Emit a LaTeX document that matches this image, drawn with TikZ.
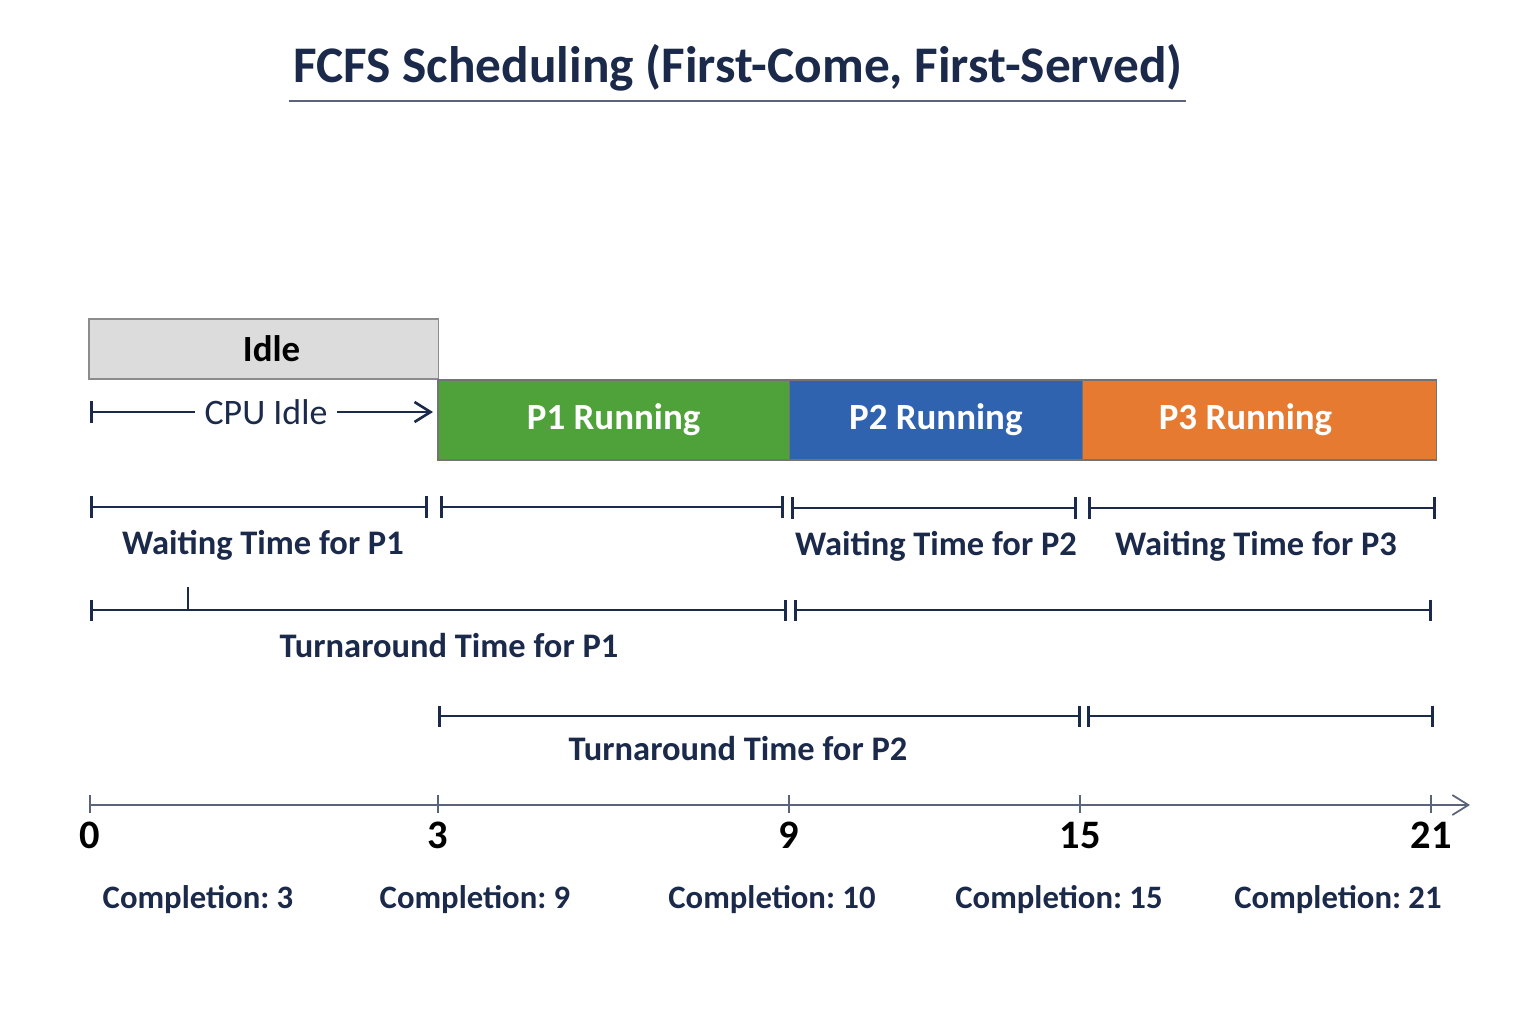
\documentclass[tikz,border=0pt]{standalone}
\usepackage{fontspec}
\setmainfont{Carlito}
\usetikzlibrary{arrows.meta,positioning}
\definecolor{navy}{HTML}{1B2A4A}
\definecolor{axisgray}{HTML}{5A6378}
\definecolor{idlegray}{HTML}{DCDCDC}
\definecolor{pgreen}{HTML}{4FA23A}
\definecolor{pblue}{HTML}{2F63B0}
\definecolor{porange}{HTML}{E57A30}
\frenchspacing
\begin{document}
\begin{tikzpicture}[
                x=0.01cm, y=-0.01cm,
                every node/.style={text=navy, font=\bfseries\fontsize{9.8}{11}\selectfont},
                proc/.style={rectangle, draw=black!55, text=white, minimum height=0.8cm, inner sep=0pt, outer sep=0pt, font=\bfseries\fontsize{10.5}{12}\selectfont},
                span/.style={draw=navy, line width=0.75pt, {Bar[width=2.1mm]}-{Bar[width=2.1mm]}},
                tick/.style={draw=axisgray, line width=0.5pt}
            ]
                \useasboundingbox (0,0) rectangle (1536,1024);
                % title
                \node[font=\bfseries\fontsize{14.6}{16}\selectfont] (title) at (738,68) {FCFS Scheduling (First-Come, First-Served)};
                \coordinate (ul0) at (289,101);
                \coordinate (ul1) at (1186,101);
                \draw[draw=axisgray, line width=0.6pt] (ul0) -- (ul1);
                % gantt boxes
                \node[proc, anchor=south west, fill=idlegray, draw=black!45, text=black, minimum width=3.49cm, minimum height=0.6cm] (idle) at (89,379) {\hspace*{0.16cm}Idle};
                \node[proc, anchor=north west, fill=pgreen, minimum width=3.51cm] (p1) at (438,380) {P1 Running};
                \node[proc, anchor=west, fill=pblue, minimum width=2.93cm] (p2) at (p1.east) {P2 Running};
                \node[proc, anchor=west, fill=porange, minimum width=3.54cm] (p3) at (p2.east) {P3 Running\hspace*{0.28cm}};
                % cpu idle
                \node[font=\fontsize{10.2}{12}\selectfont, inner sep=0pt, minimum width=1.41cm] (cpuidle) at (266,412) {CPU Idle};
                \coordinate (ci0) at (90,412);
                \coordinate (ci1) at (433,412);
                \draw[span, {Bar[width=2.1mm]}-] (ci0) -- (cpuidle.west);
                \draw[draw=navy, line width=0.75pt, -{Straight Barb[length=1.6mm, width=2mm]}] (cpuidle.east) -- (ci1);
                % waiting and turnaround spans
                \foreach \n/\a/\b/\y in {w1a/90/428/507, w1b/440/784/507, w2/791/1077/508, w3/1088/1436/508,
                                         t1a/90/787/610, t1b/794/1432/610, t2a/438/1081/716, t2b/1087/1434/716} {
                    \coordinate (\n s) at (\a,\y);
                    \coordinate (\n e) at (\b,\y);
                    \draw[span] (\n s) -- (\n e);
                }
                \coordinate (tk0) at (188,587);
                \coordinate (tk1) at (188,610);
                \draw[draw=navy, line width=0.75pt] (tk0) -- (tk1);
                \node (wp1) at (263,545) {Waiting Time for P1};
                \node (wp2) at (936,546) {Waiting Time for P2};
                \node (wp3) at (1256,546) {Waiting Time for P3};
                \node (tp1) at (449,646) {Turnaround Time for P1};
                \node (tp2) at (738,749) {Turnaround Time for P2};
                % time axis
                \coordinate (ax0) at (90,805);
                \coordinate (ax1) at (1470,805);
                \draw[tick, -{Straight Barb[length=1.6mm, width=2mm]}] (ax0) -- (ax1);
                \foreach \x/\t in {90/0, 438/3, 789/9, 1080/15, 1431/21} {
                    \draw[tick] (\x,795) -- (\x,813);
                    \node[text=black, font=\bfseries\fontsize{11.5}{13}\selectfont] (n\t) at (\x,835) {\t};
                }
                % completion times
                \foreach \x/\c in {198/3, 475/9, 772/10, 1059/15, 1338/21} {
                    \node[font=\bfseries\fontsize{9.3}{11}\selectfont] (c\c) at (\x,900) {Completion: \c};
                }
            \end{tikzpicture}
\end{document}
